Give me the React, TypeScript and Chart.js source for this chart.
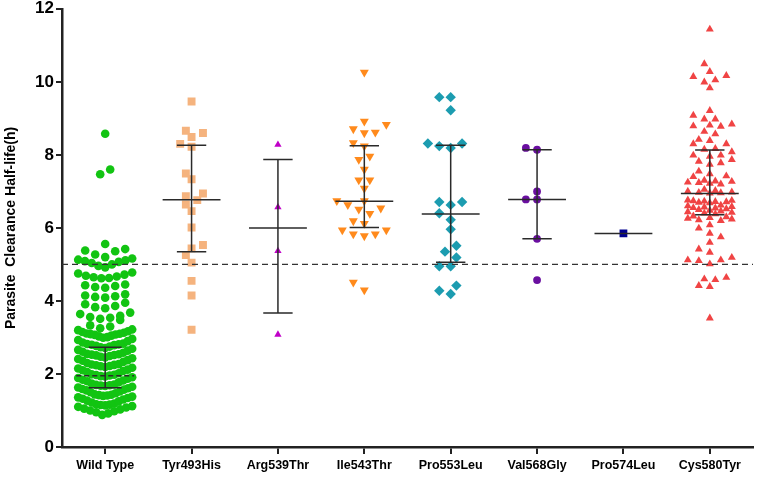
import { useEffect, useRef } from "react";
import { Chart, registerables } from "chart.js";

Chart.register(...registerables);

// ---------- DATA ----------
const categories = ["Wild Type", "Tyr493His", "Arg539Thr", "Ile543Thr", "Pro553Leu", "Val568Gly", "Pro574Leu", "Cys580Tyr"];
const yTicks = [0, 2, 4, 6, 8, 10, 12];
const yTitle = "Parasite  Clearance Half-life(h)";
const threshold = 5;

const wildType = [
  0.88, 0.92, 0.95, 0.98, 1.0, 1.03, 1.05, 1.08, 1.1, 1.12, 1.14, 1.15, 1.16, 1.17,
  1.19, 1.22, 1.25, 1.27, 1.3, 1.32, 1.34, 1.36, 1.38, 1.4, 1.41, 1.42, 1.43, 1.44,
  1.47, 1.5, 1.52, 1.55, 1.57, 1.59, 1.61, 1.63, 1.65, 1.67, 1.68, 1.69, 1.7, 1.71,
  1.74, 1.77, 1.8, 1.82, 1.84, 1.87, 1.89, 1.91, 1.93, 1.94, 1.96, 1.97, 1.98, 1.99,
  2.02, 2.05, 2.08, 2.1, 2.12, 2.15, 2.17, 2.19, 2.21, 2.22, 2.24, 2.25, 2.26, 2.27,
  2.3, 2.33, 2.36, 2.38, 2.41, 2.43, 2.45, 2.47, 2.49, 2.51, 2.52, 2.53, 2.54, 2.55,
  2.58, 2.61, 2.64, 2.66, 2.69, 2.71, 2.73, 2.75, 2.77, 2.79, 2.8, 2.81, 2.82, 2.83,
  2.86, 2.9, 2.93, 2.96, 2.99, 3.01, 3.03, 3.05, 3.07, 3.08, 3.09, 3.1, 3.11,
  3.13, 3.15, 3.17, 3.2, 3.22, 3.25, 3.3, 3.33,
  3.48, 3.51, 3.54, 3.56, 3.59, 3.64, 3.68,
  3.8, 3.83, 3.86, 3.91, 3.95,
  4.09, 4.11, 4.13, 4.15, 4.18,
  4.36, 4.38, 4.41, 4.43, 4.45,
  4.62, 4.63, 4.65, 4.67, 4.69, 4.72, 4.75, 4.78,
  4.92, 4.96, 5.0, 5.04, 5.07, 5.09, 5.11, 5.13, 5.16,
  5.2, 5.27, 5.36, 5.38, 5.42,
  5.56, 7.47, 7.6, 8.58,
];
const tyr493His = [9.46, 8.66, 8.6, 8.49, 8.3, 8.22, 7.49, 7.33, 6.94, 6.87, 6.76, 6.64, 6.46, 6.01, 5.53, 5.44, 5.26, 5.05, 4.55, 4.15, 3.21];
const arg539Thr = [8.28, 6.57, 5.37, 3.08];
const ile543Thr = [10.26, 8.92, 8.83, 8.71, 8.62, 8.6, 8.33, 8.24, 7.96, 7.87, 7.6, 7.31, 7.31, 7.08, 6.74, 6.74, 6.63, 6.54, 6.51, 6.39, 6.19, 6.12, 5.94, 5.94, 5.83, 5.83, 5.78, 4.51, 4.3];
const pro553Leu = [9.58, 9.58, 9.22, 8.31, 8.31, 8.24, 8.19, 6.71, 6.71, 6.63, 6.4, 6.22, 5.96, 5.51, 5.35, 5.19, 4.95, 4.95, 4.42, 4.28, 4.19];
const val568Gly = [8.19, 8.14, 7.0, 6.78, 6.78, 5.7, 4.57];
const pro574Leu = [5.85];
const cys580Tyr = [
  11.44, 10.49, 10.28, 10.17, 10.14, 10.05, 9.99, 9.83, 9.21, 9.08, 8.98, 8.98, 8.84, 8.81, 8.79, 8.78, 8.64, 8.57,
  8.42, 8.39, 8.3, 8.3, 8.17, 8.15, 8.08, 7.99, 7.99, 7.96, 7.87, 7.82, 7.78, 7.74, 7.55, 7.48, 7.42, 7.4,
  7.3, 7.28, 7.27, 7.25, 7.24, 7.22, 7.2, 7.05, 7.02, 7.0, 6.98, 6.97, 6.96, 6.95,
  6.76, 6.75, 6.74, 6.73, 6.72, 6.71, 6.7, 6.68, 6.62, 6.6, 6.58, 6.57, 6.55, 6.54, 6.52, 6.5,
  6.48, 6.46, 6.44, 6.42, 6.4, 6.38, 6.32, 6.3, 6.28, 6.26, 6.24, 6.22, 6.2,
  6.08, 5.99, 5.85, 5.75, 5.6, 5.42, 5.33, 5.19, 5.12, 5.12, 5.1, 5.01, 4.64, 4.6, 4.58, 4.42, 4.39, 3.53,
];

const medians = [1.95, 6.77, 6.0, 6.73, 6.38, 6.78, 5.85, 6.94];
const lowerQuartiles = [1.62, 5.35, 3.67, 6.01, 5.06, 5.7, null, 6.36];
const upperQuartiles = [2.73, 8.26, 7.87, 8.25, 8.26, 8.14, null, 8.13];

const seriesValues = [wildType, tyr493His, arg539Thr, ile543Thr, pro553Leu, val568Gly, pro574Leu, cys580Tyr];

// ---------- STYLES ----------
const styles = [
  { color: "#12C412", shape: "circle", radius: 4.3, rotation: 0, mode: "rows", d: 8.5, step: 10, maxHalf: 27, binH: 0.26 },
  { color: "#F5B37E", shape: "rect", radius: 5.6, rotation: 0, mode: "grid", d: 8, step: 5.7, maxHalf: 30, binH: 0 },
  { color: "#C000C8", shape: "triangle", radius: 4.2, rotation: 0, mode: "grid", d: 7, step: 5.6, maxHalf: 30, binH: 0 },
  { color: "#FF8A1C", shape: "triangle", radius: 5.2, rotation: 180, mode: "grid", d: 10, step: 5.5, maxHalf: 30, binH: 0 },
  { color: "#1C9CB0", shape: "rectRot", radius: 5.2, rotation: 0, mode: "grid", d: 9, step: 5.7, maxHalf: 30, binH: 0 },
  { color: "#6A0FA0", shape: "circle", radius: 3.9, rotation: 0, mode: "grid", d: 8, step: 5.6, maxHalf: 30, binH: 0 },
  { color: "#00008F", shape: "rect", radius: 5.5, rotation: 0, mode: "grid", d: 8, step: 5.6, maxHalf: 30, binH: 0 },
  { color: "#F04444", shape: "triangle", radius: 4.6, rotation: 0, mode: "grid", d: 8, step: 5.5, maxHalf: 25, binH: 0 },
];
const medianHalf = 0.335;
const capHalf = [0.19, 0.17, 0.17, 0.17, 0.17, 0.17, 0.17, 0.17];
const dashedMedian = [true, false, false, false, false, false, false, false];

const PX_X = 86.4;
const PX_Y = 36.67;

type St = { d: number; step: number; maxHalf: number; binH: number; mode: string };

// row-binned swarm: values grouped in horizontal bands, lowest value of a band in the middle
function rowSwarm(values: number[], center: number, st: St) {
  const sorted = [...values].sort((a, b) => a - b);
  const out: { x: number; y: number }[] = [];
  let i = 0;
  while (i < sorted.length) {
    const start = sorted[i];
    const row: number[] = [];
    while (i < sorted.length && sorted[i] < start + st.binH - 1e-9) row.push(sorted[i++]);
    const n = row.length;
    const sp = n > 1 ? Math.min(st.step, (2 * st.maxHalf) / (n - 1)) : 0;
    const slots: number[] = [];
    for (let k = 0; k < n; k++) slots.push((k - (n - 1) / 2) * sp);
    slots.sort((a, b) => Math.abs(a) - Math.abs(b) || a - b);
    row.forEach((v, k) => out.push({ x: center + slots[k] / PX_X, y: v }));
  }
  return out;
}

// grid swarm: x offsets on a fixed step, first free slot nearest the centre
function gridSwarm(values: number[], center: number, st: St) {
  const sorted = [...values].sort((a, b) => a - b);
  const placed: { x: number; y: number }[] = [];
  const out: { x: number; y: number }[] = [];
  const nMax = Math.floor(st.maxHalf / st.step);
  for (const v of sorted) {
    const y = v * PX_Y;
    let best = 0;
    let bestScore = -Infinity;
    let found = false;
    let left = 0;
    let right = 0;
    for (const q of placed) {
      if (Math.abs(q.y - y) < st.d * 2) {
        if (q.x < 0) left++;
        else if (q.x > 0) right++;
      }
    }
    for (let k = 0; k <= nMax && !found; k++) {
      const cands = k === 0 ? [0] : left <= right ? [-k * st.step, k * st.step] : [k * st.step, -k * st.step];
      for (const cx of cands) {
        let minD = Infinity;
        for (const q of placed) {
          const dx = q.x - cx;
          const dy = q.y - y;
          const dd = Math.sqrt(dx * dx + dy * dy);
          if (dd < minD) minD = dd;
        }
        if (minD >= st.d) {
          best = cx;
          found = true;
          break;
        }
        if (minD > bestScore + 0.01) {
          bestScore = minD;
          best = cx;
        }
      }
    }
    placed.push({ x: best, y });
    out.push({ x: center + best / PX_X, y: v });
  }
  return out;
}

const overlayPlugin = {
  id: "overlay",
  afterDatasetsDraw(chart: any) {
    const { ctx, chartArea } = chart;
    const xs = chart.scales.x;
    const ys = chart.scales.y;
    ctx.save();
    ctx.strokeStyle = "#333";
    ctx.lineWidth = 1.3;
    ctx.setLineDash([6, 4]);
    const ty = ys.getPixelForValue(threshold);
    ctx.beginPath();
    ctx.moveTo(chartArea.left, ty);
    ctx.lineTo(chartArea.right, ty);
    ctx.stroke();
    categories.forEach((_, i) => {
      ctx.strokeStyle = "#2a2a2a";
      ctx.lineWidth = 1.5;
      const my = ys.getPixelForValue(medians[i]);
      ctx.setLineDash(dashedMedian[i] ? [5, 3] : []);
      ctx.beginPath();
      ctx.moveTo(xs.getPixelForValue(i - medianHalf), my);
      ctx.lineTo(xs.getPixelForValue(i + medianHalf), my);
      ctx.stroke();
      ctx.setLineDash([]);
      const lo = lowerQuartiles[i];
      const hi = upperQuartiles[i];
      if (lo != null && hi != null) {
        const cx = xs.getPixelForValue(i);
        const ly = ys.getPixelForValue(lo);
        const hy = ys.getPixelForValue(hi);
        ctx.beginPath();
        ctx.moveTo(cx, ly);
        ctx.lineTo(cx, hy);
        ctx.moveTo(xs.getPixelForValue(i - capHalf[i]), ly);
        ctx.lineTo(xs.getPixelForValue(i + capHalf[i]), ly);
        ctx.moveTo(xs.getPixelForValue(i - capHalf[i]), hy);
        ctx.lineTo(xs.getPixelForValue(i + capHalf[i]), hy);
        ctx.stroke();
      }
    });
    ctx.restore();
  },
};

export default function App() {
  const ref = useRef<HTMLCanvasElement | null>(null);
  useEffect(() => {
    if (!ref.current) return;
    const datasets = seriesValues.map((vals, i) => {
      const st = styles[i];
      const pts = st.mode === "rows" ? rowSwarm(vals, i, st) : gridSwarm(vals, i, st);
      return {
        label: categories[i],
        data: pts,
        pointStyle: st.shape,
        pointRadius: st.radius,
        pointRotation: st.rotation,
        backgroundColor: st.color,
        borderColor: st.color,
        borderWidth: 0,
        showLine: false,
      };
    });
    const chart = new Chart(ref.current, {
      type: "scatter",
      data: { datasets: datasets as any },
      options: {
        responsive: false,
        animation: false,
        devicePixelRatio: 1,
        layout: { padding: { left: 2, right: 13, top: 0, bottom: 0 } },
        plugins: { legend: { display: false }, tooltip: { enabled: false } },
        scales: {
          x: {
            type: "linear",
            min: -0.5,
            max: 7.5,
            afterBuildTicks: (s: any) => {
              s.ticks = categories.map((_, i) => ({ value: i }));
            },
            afterFit: (s: any) => {
              s.height = 34;
            },
            ticks: {
              autoSkip: false,
              maxRotation: 0,
              color: "#000",
              padding: 4,
              font: { family: "Arial, 'Liberation Sans'", size: 12.5, weight: "bold" },
              callback: (v: any) => categories[Math.round(Number(v))] ?? "",
            },
            grid: { drawOnChartArea: false, drawTicks: true, tickLength: 7, color: "#222", lineWidth: 2 },
            border: { display: true, color: "#222", width: 2.5 },
          },
          y: {
            type: "linear",
            min: 0,
            max: 12,
            afterBuildTicks: (s: any) => {
              s.ticks = yTicks.map((v) => ({ value: v }));
            },
            afterFit: (s: any) => {
              s.width = 60;
            },
            ticks: {
              color: "#000",
              padding: 2,
              font: { family: "Arial, 'Liberation Sans'", size: 17, weight: "bold", lineHeight: 0.8 },
            },
            grid: { drawOnChartArea: false, drawTicks: true, tickLength: 6, color: "#222", lineWidth: 2 },
            border: { display: true, color: "#222", width: 2.5 },
            title: {
              display: true,
              text: yTitle,
              color: "#000",
              padding: { top: 1, bottom: 4 },
              font: { family: "Arial, 'Liberation Sans'", size: 14, weight: "bold" },
            },
          },
        },
      },
      plugins: [overlayPlugin],
    });
    return () => chart.destroy();
  }, []);
  return (
    <div style={{ position: "fixed", left: 0, top: 0, width: 766, height: 481, background: "#fff" }}>
      <canvas ref={ref} width={766} height={481} style={{ width: 766, height: 481, display: "block" }} />
    </div>
  );
}
